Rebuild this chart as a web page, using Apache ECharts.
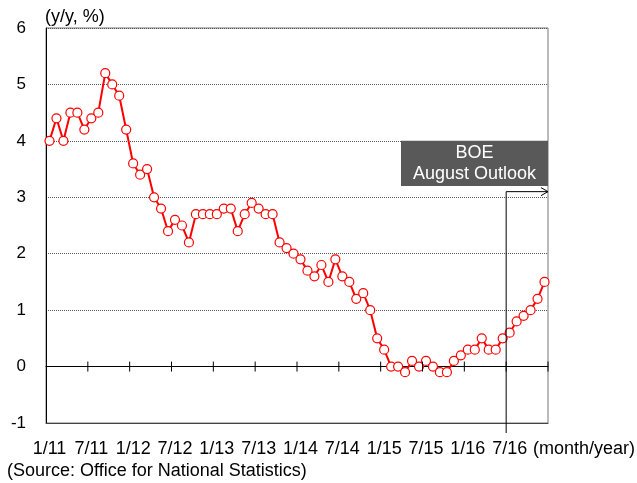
<!DOCTYPE html>
<html><head><meta charset="utf-8">
<script src="https://cdn.jsdelivr.net/npm/echarts@6/dist/echarts.min.js"></script>
<style>html,body{margin:0;padding:0;background:#fff}#c{width:637px;height:483px}</style>
</head><body><div id="c"></div>
<script>
const months = [];
const years = ['11','12','13','14','15','16'];
for (const y of years) for (let m = 1; m <= 12; m++) months.push(m + '/' + y);

const cpi = [
  4.0,4.4,4.0,4.5,4.5,4.2,4.4,4.5,5.2,5.0,4.8,4.2,
  3.6,3.4,3.5,3.0,2.8,2.4,2.6,2.5,2.2,2.7,2.7,2.7,
  2.7,2.8,2.8,2.4,2.7,2.9,2.8,2.7,2.7,2.2,2.1,2.0,
  1.9,1.7,1.6,1.8,1.5,1.9,1.6,1.5,1.2,1.3,1.0,0.5,
  0.3,0.0,0.0,-0.1,0.1,0.0,0.1,0.0,-0.1,-0.1,0.1,0.2,
  0.3,0.3,0.5,0.3,0.3,0.5,0.6,0.8,0.9,1.0,1.2,1.5
];
const yTicks = { min: -1, max: 6, interval: 1 };
const tickEvery = 6;
const outlookLevel = 3.1;
const outlookStart = ['6/16', '7/16'];
const FONT = 'Liberation Sans, Arial, sans-serif';

const chart = echarts.init(document.getElementById('c'), null, { renderer: 'canvas' });
const option = {
  animation: false,
  grid: { left: 46, right: 89, top: 28, bottom: 60, show: true, borderColor: '#777', borderWidth: 1 },
  xAxis: [
    { type: 'category', data: months, position: 'bottom', boundaryGap: true,
      axisLine: { onZero: false, lineStyle: { color: '#444', width: 1 } },
      axisTick: { show: false },
      axisLabel: { interval: tickEvery - 1, margin: 17, color: '#000', fontSize: 18, fontFamily: FONT },
      splitLine: { show: false } },
    { type: 'category', data: months, position: 'bottom', boundaryGap: true,
      axisLine: { onZero: true, lineStyle: { color: '#000', width: 1 } },
      axisTick: { show: false }, axisLabel: { show: false }, splitLine: { show: false } }
  ],
  yAxis: {
    type: 'value', min: yTicks.min, max: yTicks.max, interval: yTicks.interval,
    name: '(y/y, %)', nameLocation: 'end', nameGap: 2,
    nameTextStyle: { align: 'left', color: '#000', fontSize: 18, fontFamily: FONT, padding: [0,0,0,-1] },
    axisLine: { show: true, lineStyle: { color: '#000', width: 1 } },
    axisTick: { show: false },
    axisLabel: { margin: 20, color: '#000', fontSize: 17, fontFamily: FONT },
    splitLine: { show: true, lineStyle: { color: '#555', type: [1, 1], width: 1 } }
  },
  series: [
    { type: 'line', xAxisIndex: 1, data: cpi, symbol: 'none', silent: true,
      lineStyle: { opacity: 0 }, z: 0 },
    {
      type: 'line', xAxisIndex: 0, data: cpi,
      symbol: 'circle', symbolSize: 9, showSymbol: true, showAllSymbol: true,
      lineStyle: { color: '#ff0000', width: 2 },
      itemStyle: { color: '#ffffff', borderColor: '#ff0000', borderWidth: 1.2 },
      z: 5
    }
  ]
};
chart.setOption(option);

const px = (cat) => chart.convertToPixel({ xAxisIndex: 0 }, cat);
const py = (v) => chart.convertToPixel({ yAxisIndex: 0 }, v);
const band = px(months[1]) - px(months[0]);
const xb = (px(outlookStart[0]) + px(outlookStart[1])) / 2;
const xr = px(months[months.length - 1]) + band / 2;
const yl = py(outlookLevel);
const y0 = py(0);
const yBot = py(yTicks.min);
const boxTop = py(4), boxBot = py(3.2);

const ticks = [];
for (let i = tickEvery; i <= months.length; i += tickEvery) {
  const x = i < months.length ? px(months[i]) - band / 2 : xr;
  ticks.push({ type: 'line', z: 90, shape: { x1: x, y1: y0 - 5, x2: x, y2: y0 + 5 },
               style: { stroke: '#000', lineWidth: 1 } });
}

chart.setOption({
  graphic: ticks.concat([
    { type: 'polyline', z: 100, shape: { points: [[xb, yBot + 10], [xb, yl], [xr, yl]] },
      style: { stroke: '#000', lineWidth: 1, fill: null } },
    { type: 'polyline', z: 100, shape: { points: [[xr - 7, yl - 4], [xr, yl], [xr - 7, yl + 4]] },
      style: { stroke: '#000', lineWidth: 1, fill: null } },
    { type: 'rect', z: 100, shape: { x: xr - 147, y: boxTop, width: 147, height: boxBot - boxTop },
      style: { fill: '#595959' } },
    { type: 'text', z: 101, x: xr - 73.5, y: (boxTop + boxBot) / 2,
      style: { text: 'BOE\nAugust Outlook', fill: '#fff', font: '18px ' + FONT,
               align: 'center', verticalAlign: 'middle', lineHeight: 21 } },
    { type: 'text', z: 101, x: 533, y: 449,
      style: { text: '(month/year)', fill: '#000', font: '18px ' + FONT, verticalAlign: 'middle' } },
    { type: 'text', z: 101, x: 7, y: 471,
      style: { text: '(Source: Office for National Statistics)', fill: '#000', font: '18px ' + FONT, verticalAlign: 'middle' } }
  ])
});
</script>
</body></html>
